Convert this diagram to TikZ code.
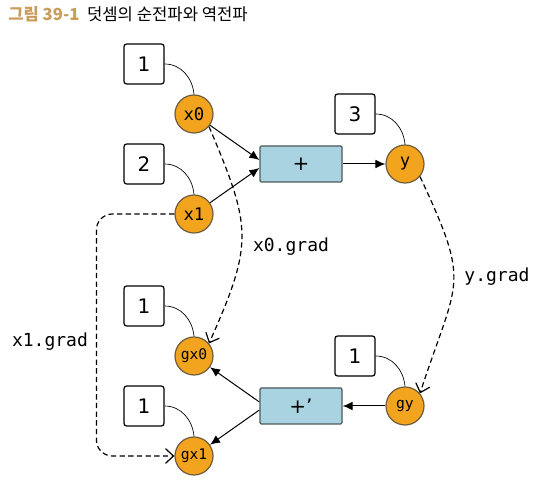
\documentclass[tikz,border=0pt]{standalone}
\usepackage{fontspec}
\setmainfont{DejaVu Sans}
\setmonofont{DejaVu Sans Mono}
\newfontfamily\krfont{Noto Sans CJK KR}
\usetikzlibrary{positioning, arrows, arrows.meta, shapes}
\definecolor{varfill}{HTML}{F2A41E}
\definecolor{varedge}{HTML}{6E5C3C}
\definecolor{funcfill}{HTML}{A9D3E0}
\definecolor{funcedge}{HTML}{4D5A5E}
\definecolor{titlegold}{HTML}{C89D5A}
\tikzstyle{valbox} = [rectangle, rounded corners=2pt, minimum width=30pt, minimum height=30pt, inner sep=0pt, draw=black, line width=0.9pt, fill=white, font=\fontsize{15}{15}\selectfont]
\tikzstyle{var} = [circle, minimum size=28.5pt, inner sep=0pt, draw=varedge, line width=0.9pt, fill=varfill, font=\ttfamily\fontsize{13}{13}\selectfont]
\tikzstyle{gvar} = [var, font=\ttfamily\fontsize{11}{11}\selectfont]
\tikzstyle{func} = [rectangle, rounded corners=1pt, minimum width=61.5pt, minimum height=27pt, inner sep=0pt, draw=funcedge, line width=0.9pt, fill=funcfill, font=\fontsize{15}{15}\selectfont]
\tikzstyle{arrow} = [line width=0.75pt, -{Latex[length=7.5pt,width=6.5pt]}]
\tikzstyle{grad} = [line width=0.9pt, dash pattern=on 4pt off 2.5pt, -{Straight Barb[length=6pt,width=11pt]}]
\tikzstyle{connect} = [line width=0.5pt, -]
\tikzstyle{gradlabel} = [font=\ttfamily\fontsize{13.5}{13.5}\selectfont]

\begin{document}
\begin{tikzpicture}[x=0.75pt, y=0.75pt, node distance=37.5pt]
            \useasboundingbox (0,0) rectangle (537,490);
            \node (title) [anchor=west, inner sep=0pt, font=\krfont\fontsize{12.5}{12.5}\selectfont] at (8,476) {{\bfseries\color{titlegold}그림 39-1}\ \ 덧셈의 순전파와 역전파};

            % forward
            \node (x0) [var] at (194,376) {x0};
            \node (v0) [valbox, above of=x0, xshift=-37.5pt] {1};
            \node (x1) [var, below of=x0, yshift=-37.5pt] {x1};
            \node (v1) [valbox, above of=x1, xshift=-37.5pt] {2};
            \node (add) [func, above of=x1, xshift=80.25pt] {+};
            \node (y) [var, right of=add, xshift=40.5pt] {y};
            \node (vy) [valbox, above of=y, xshift=-37.5pt] {3};

            % backward
            \node (gy) [gvar, below of=y, yshift=-144pt] {gy};
            \node (vgy) [valbox, above of=gy, xshift=-37.5pt] {1};
            \node (addb) [func, left of=gy, xshift=-40.5pt] {+’};
            \node (gx0) [gvar, above of=addb, xshift=-80.25pt] {gx0};
            \node (vgx0) [valbox, above of=gx0, xshift=-37.5pt] {1};
            \node (gx1) [gvar, below of=addb, xshift=-80.25pt] {gx1};
            \node (vgx1) [valbox, above of=gx1, xshift=-37.5pt] {1};

            \draw [connect] (v0.east) to[out=0, in=95] (x0.north);
            \draw [connect] (v1.east) to[out=0, in=95] (x1.north);
            \draw [connect] (vy.east) to[out=0, in=95] (y.north);
            \draw [connect] (vgy.east) to[out=0, in=95] (gy.north);
            \draw [connect] (vgx0.east) to[out=0, in=95] (gx0.north);
            \draw [connect] (vgx1.east) to[out=0, in=95] (gx1.north);

            \draw [arrow] (x0) -- ([yshift=3pt]add.west);
            \draw [arrow] (x1) -- ([yshift=-3pt]add.west);
            \draw [arrow] (add) -- (y);
            \draw [arrow] (gy) -- (addb);
            \draw [arrow] ([yshift=3pt]addb.west) -- (gx0);
            \draw [arrow] ([yshift=-3pt]addb.west) -- (gx1);

            % gradients
            \draw [grad] (x0.-40) to[out=-67, in=66, looseness=1.3] (gx0.40);
            \draw [grad] (y.-40) to[out=-65, in=72, looseness=1.45] (gy.40);
            \draw [grad, rounded corners=12pt] (x1.west) -- ++(-78,0) |- (gx1.west);
            \node (lx0) [gradlabel] at (291,243) {x0.grad};
            \node (lx1) [gradlabel] at (50,148) {x1.grad};
            \node (ly) [gradlabel] at (497,213) {y.grad};
        \end{tikzpicture}
\end{document}
